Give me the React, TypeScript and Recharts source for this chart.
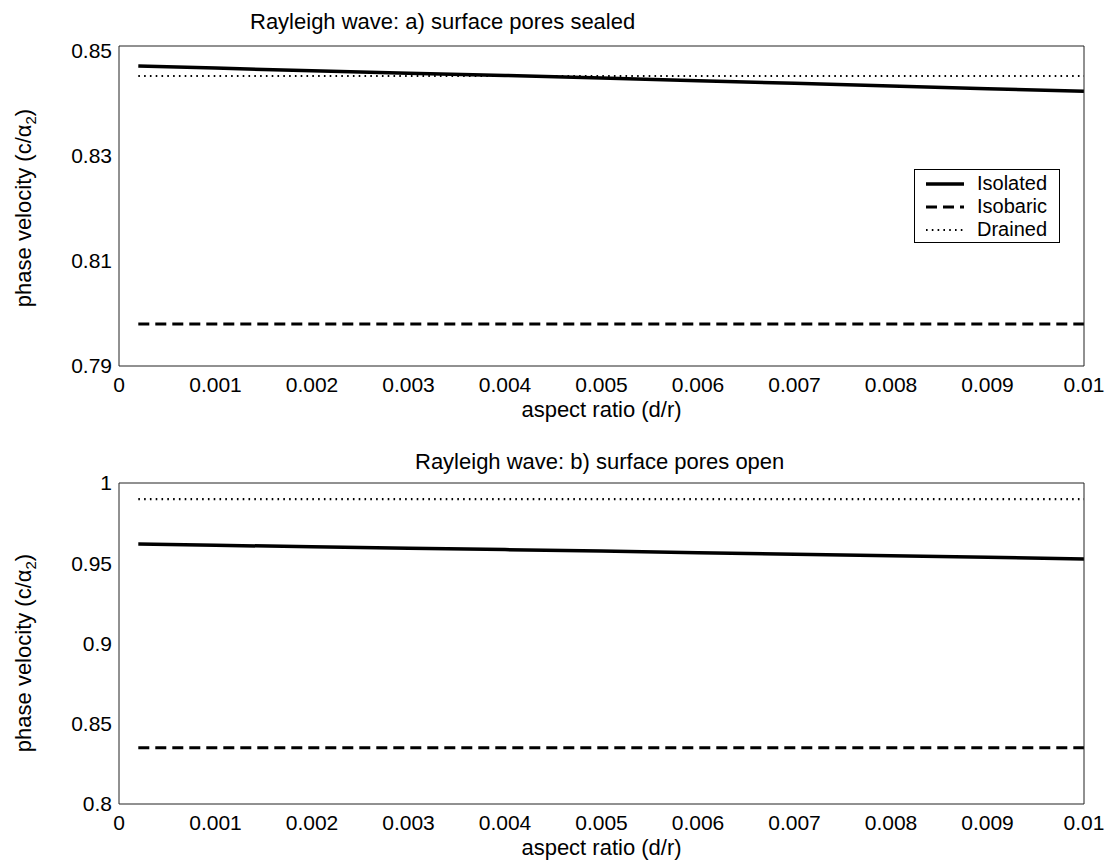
import { LineChart, Line, XAxis, YAxis, Legend } from "recharts";

// aspect ratio (d/r) sample positions
const aspectRatio = [0.0002, 0.001, 0.002, 0.003, 0.004, 0.005, 0.006, 0.007, 0.008, 0.009, 0.01];

// a) surface pores sealed
const sealedIsolated = [0.847, 0.8466, 0.8461, 0.8456, 0.8452, 0.8447, 0.8442, 0.8437, 0.8432, 0.8427, 0.8422];
const sealedIsobaric = [0.798, 0.798, 0.798, 0.798, 0.798, 0.798, 0.798, 0.798, 0.798, 0.798, 0.798];
const sealedDrained = [0.8451, 0.8451, 0.8451, 0.8451, 0.8451, 0.8451, 0.8451, 0.8451, 0.8451, 0.8451, 0.8451];

// b) surface pores open
const openIsolated = [0.962, 0.9612, 0.9603, 0.9594, 0.9585, 0.9576, 0.9566, 0.9556, 0.9546, 0.9537, 0.9527];
const openIsobaric = [0.835, 0.835, 0.835, 0.835, 0.835, 0.835, 0.835, 0.835, 0.835, 0.835, 0.835];
const openDrained = [0.99, 0.99, 0.99, 0.99, 0.99, 0.99, 0.99, 0.99, 0.99, 0.99, 0.99];

const xTicks = [0, 0.001, 0.002, 0.003, 0.004, 0.005, 0.006, 0.007, 0.008, 0.009, 0.01];
const sealedTicks = [0.79, 0.81, 0.83, 0.85];
const openTicks = [0.8, 0.85, 0.9, 0.95, 1];

const seriesNames = ["Isolated", "Isobaric", "Drained"];

const sealedData = aspectRatio.map((x, i) => ({
  x,
  Isolated: sealedIsolated[i],
  Isobaric: sealedIsobaric[i],
  Drained: sealedDrained[i],
}));

const openData = aspectRatio.map((x, i) => ({
  x,
  Isolated: openIsolated[i],
  Isobaric: openIsobaric[i],
  Drained: openDrained[i],
}));

const FONT = "Arial, 'Liberation Sans', Helvetica, sans-serif";
const AXIS = "#222";

const lineStyle: Record<string, { width: number; dash?: string }> = {
  Isolated: { width: 3.5 },
  Isobaric: { width: 3, dash: "11 6" },
  Drained: { width: 2.2, dash: "1.6 4.2" },
};

function LegendBox() {
  return (
    <div
      style={{
        width: 146,
        height: 74,
        boxSizing: "border-box",
        border: "1px solid #000",
        background: "#fff",
        paddingTop: 2,
        fontFamily: FONT,
        fontSize: 20,
        color: "#000",
      }}
    >
      {seriesNames.map((name) => (
        <div key={name} style={{ height: 23, display: "flex", alignItems: "center" }}>
          <svg width={62} height={23}>
            <line
              x1={11}
              x2={49}
              y1={12}
              y2={12}
              stroke="#000"
              strokeWidth={lineStyle[name].width}
              strokeDasharray={lineStyle[name].dash}
            />
          </svg>
          <span style={{ lineHeight: "23px" }}>{name}</span>
        </div>
      ))}
    </div>
  );
}

type PanelProps = {
  title: string;
  titleX: number;
  titleY: number;
  data: any[];
  domain: [number, number];
  yTicks: number[];
  height: number;
  marginTop: number;
  marginBottom: number;
  labelCenter: number;
  showLegend?: boolean;
};

function Panel(p: PanelProps) {
  const plotBottom = p.height - p.marginBottom - 30;
  const midX = (119 + 1084) / 2;
  const tickStyle = { fill: "#000", fontSize: 21, fontFamily: FONT };
  return (
    <LineChart
      width={1107}
      height={p.height}
      data={p.data}
      margin={{ top: p.marginTop, right: 23, bottom: p.marginBottom, left: 49 }}
    >
      <XAxis
        xAxisId="x"
        dataKey="x"
        type="number"
        domain={[0, 0.01]}
        ticks={xTicks}
        allowDataOverflow
        tickLine={false}
        tickSize={6}
        tickMargin={5}
        height={30}
        axisLine={{ stroke: AXIS }}
        tick={tickStyle}
        interval={0}
      />
      <XAxis
        xAxisId="xin"
        type="number"
        domain={[0, 0.01]}
        ticks={xTicks}
        allowDataOverflow
        mirror
        orientation="bottom"
        tick={false}
        tickSize={9}
        axisLine={false}
        tickLine={{ stroke: AXIS }}
        interval={0}
      />
      <XAxis
        xAxisId="xtop"
        type="number"
        domain={[0, 0.01]}
        ticks={xTicks}
        allowDataOverflow
        mirror
        orientation="top"
        tick={false}
        tickSize={9}
        axisLine={{ stroke: AXIS }}
        tickLine={{ stroke: AXIS }}
        interval={0}
      />
      <YAxis
        yAxisId="y"
        type="number"
        domain={p.domain}
        ticks={p.yTicks}
        allowDataOverflow
        width={70}
        tickLine={false}
        tickSize={6}
        tickMargin={1}
        axisLine={{ stroke: AXIS }}
        tick={tickStyle}
        interval={0}
      />
      <YAxis
        yAxisId="yin"
        type="number"
        domain={p.domain}
        ticks={p.yTicks}
        allowDataOverflow
        mirror
        orientation="left"
        tick={false}
        tickSize={9}
        axisLine={false}
        tickLine={{ stroke: AXIS }}
        interval={0}
      />
      <YAxis
        yAxisId="yr"
        type="number"
        domain={p.domain}
        ticks={p.yTicks}
        allowDataOverflow
        mirror
        orientation="right"
        tick={false}
        tickSize={9}
        axisLine={{ stroke: AXIS }}
        tickLine={{ stroke: AXIS }}
        interval={0}
      />
      {seriesNames.map((name) => (
        <Line
          key={name}
          xAxisId="x"
          yAxisId="y"
          dataKey={name}
          type="linear"
          stroke="#000"
          strokeWidth={lineStyle[name].width}
          strokeDasharray={lineStyle[name].dash}
          dot={false}
          activeDot={false}
          isAnimationActive={false}
        />
      ))}
      {p.showLegend && (
        <Legend
          layout="vertical"
          align="center"
          verticalAlign="middle"
          wrapperStyle={{ position: "absolute", left: 914, top: 169, width: 146 }}
          content={() => <LegendBox />}
        />
      )}
      <text
        x={p.titleX}
        y={p.titleY}
        textAnchor="start"
        fontFamily={FONT}
        fontSize={22}
        fill="#000"
      >
        {p.title}
      </text>
      <text
        x={midX}
        y={plotBottom + 51}
        textAnchor="middle"
        fontFamily={FONT}
        fontSize={22}
        fill="#000"
      >
        aspect ratio (d/r)
      </text>
      <text
        transform={`translate(31, ${p.labelCenter}) rotate(-90)`}
        textAnchor="middle"
        fontFamily={FONT}
        fontSize={22}
        fill="#000"
      >
        phase velocity (c/α
        <tspan fontSize={15} dy={5}>2</tspan>
        <tspan dy={-5}>)</tspan>
      </text>
    </LineChart>
  );
}

export default function App() {
  return (
    <div
      style={{
        position: "absolute",
        left: 0,
        top: 0,
        width: 1107,
        height: 863,
        background: "#fff",
      }}
    >
      <Panel
        title="Rayleigh wave: a) surface pores sealed"
        titleX={250}
        titleY={29}
        data={sealedData}
        domain={[0.79, 0.8508]}
        yTicks={sealedTicks}
        height={437}
        marginTop={46}
        marginBottom={41}
        labelCenter={208}
        showLegend
      />
      <Panel
        title="Rayleigh wave: b) surface pores open"
        titleX={415}
        titleY={32}
        data={openData}
        domain={[0.8, 1]}
        yTicks={openTicks}
        height={426}
        marginTop={46}
        marginBottom={29}
        labelCenter={216}
      />
    </div>
  );
}
